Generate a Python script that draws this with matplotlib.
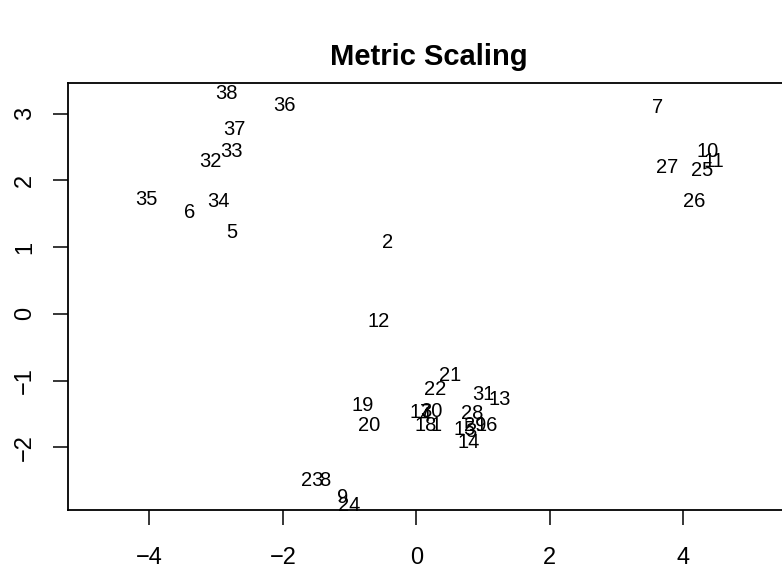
import matplotlib.pyplot as plt

# MDS coordinates of the 38 observations
ids = [str(i) for i in range(1, 39)]
dim1 = [0.29, -0.43, 0.82, 0.13, -2.77, -3.40, 3.62, -1.37, -1.10, 4.37,
        4.46, -0.57, 1.25, 0.79, 0.72, 1.06, 0.07, 0.14, -0.81, -0.71,
        0.50, 0.28, -1.56, -1.00, 4.29, 4.17, 3.76, 0.84, 0.88, 0.23,
        1.01, -3.09, -2.77, -2.97, -4.04, -1.97, -2.73, -2.85]
dim2 = [-1.64, 1.10, -1.74, -1.50, 1.25, 1.55, 3.12, -2.47, -2.72, 2.46,
        2.31, -0.08, -1.25, -1.90, -1.70, -1.65, -1.45, -1.64, -1.35, -1.64,
        -0.89, -1.10, -2.47, -2.84, 2.18, 1.72, 2.23, -1.47, -1.64, -1.43,
        -1.18, 2.32, 2.47, 1.71, 1.74, 3.16, 2.79, 3.33]
xticks = [-4, -2, 0, 2, 4]
yticks = [-2, -1, 0, 1, 2, 3]

plt.rcParams['font.family'] = ['Liberation Sans', 'DejaVu Sans']

W, H = 782, 569
fig = plt.figure(figsize=(W / 100, H / 100), dpi=100)
ax = fig.add_axes([68 / W, (H - 510) / H, (790 - 68) / W, (510 - 83) / H])

# labels only, no point markers
for lab, x, y in zip(ids, dim1, dim2):
    ax.text(x, y, lab, ha='center', va='center_baseline', fontsize=14.5)

ax.set_xlim(-5.22, 5.60)
ax.set_ylim(-2.94, 3.46)
ax.set_xticks(xticks)
ax.set_yticks(yticks)
ax.set_xticklabels([f'{t}'.replace('-', '\u2212') for t in xticks])
ax.set_yticklabels([f'{t}'.replace('-', '\u2212') for t in yticks],
                   rotation=90, va='center')
ax.tick_params(length=11, width=1.1, labelsize=17)
ax.tick_params(axis='x', pad=15.5)
ax.tick_params(axis='y', pad=12)
for s in ax.spines.values():
    s.set_linewidth(1.3)

fig.text(429 / W, 1 - 57 / H, 'Metric Scaling', ha='center', va='center',
         fontsize=21, fontweight='bold')

fig.savefig('out.png', dpi=100)
